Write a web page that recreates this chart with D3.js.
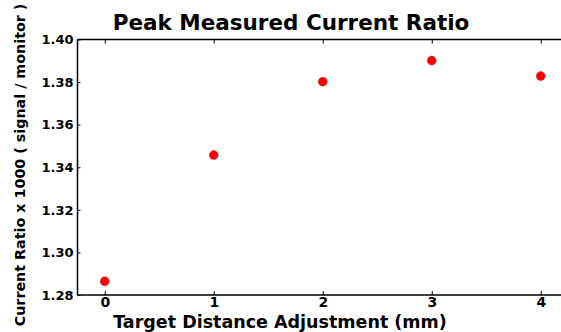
<!DOCTYPE html>
<html><head><meta charset="utf-8">
<script src="https://cdn.jsdelivr.net/npm/d3@7"></script>
<style>body{margin:0;background:#fff}svg{display:block}text{font-family:"DejaVu Sans",sans-serif;font-weight:bold}</style>
</head><body><svg id="c" width="561" height="332"></svg>
<script>
const xValues = [0, 1, 2, 3, 4];
const yValues = [1.2864, 1.3457, 1.3802, 1.3901, 1.3828];
const yTicks = [1.28, 1.30, 1.32, 1.34, 1.36, 1.38, 1.40];
const xTicks = [0, 1, 2, 3, 4];
const title = "Peak Measured Current Ratio";
const xLabel = "Target Distance Adjustment (mm)";
const yLabel = "Current Ratio x 1000 ( signal / monitor )";

const svg = d3.select("#c");
const x = d3.scaleLinear().domain([-0.25, 4.25]).range([77.5, 568]);
const y = d3.scaleLinear().domain([1.28, 1.40]).range([295, 39.5]);

const g = svg.append("g");
// spines
g.append("line").attr("x1", x(-0.25)).attr("x2", x(4.25)).attr("y1", y(1.28)).attr("y2", y(1.28)).attr("stroke", "#000").attr("stroke-width", 1.5);
g.append("line").attr("x1", x(-0.25)).attr("x2", x(4.25)).attr("y1", y(1.40)).attr("y2", y(1.40)).attr("stroke", "#000").attr("stroke-width", 1.5);
g.append("line").attr("x1", x(-0.25)).attr("x2", x(-0.25)).attr("y1", y(1.28)).attr("y2", y(1.40)).attr("stroke", "#000").attr("stroke-width", 1.5);

// bottom axis
const xb = svg.append("g").attr("transform", `translate(0,${y(1.28)})`)
  .call(d3.axisBottom(x).tickValues(xTicks).tickFormat(d3.format("d")).tickSizeInner(-4).tickSizeOuter(0).tickPadding(2));
xb.select(".domain").remove();
xb.selectAll("text").attr("font-size", 14).attr("font-family", "DejaVu Sans").attr("font-weight", "bold").attr("fill", "#000");
// top ticks
const xt = svg.append("g").attr("transform", `translate(0,${y(1.40)})`)
  .call(d3.axisTop(x).tickValues(xTicks).tickFormat("").tickSizeInner(-4).tickSizeOuter(0));
xt.select(".domain").remove();
// left axis
const yl = svg.append("g").attr("transform", `translate(${x(-0.25)},0)`)
  .call(d3.axisLeft(y).tickValues(yTicks).tickFormat(d3.format(".2f")).tickSizeInner(-3).tickSizeOuter(0).tickPadding(4));
yl.select(".domain").remove();
yl.selectAll("text").attr("font-size", 13).attr("font-family", "DejaVu Sans").attr("font-weight", "bold").attr("fill", "#000");
svg.selectAll(".tick line").attr("stroke", "#000");

// points
svg.append("g").selectAll("circle").data(xValues).join("circle")
  .attr("cx", (d) => x(d)).attr("cy", (d, i) => y(yValues[i])).attr("r", 4.5)
  .attr("fill", "#ff0000").attr("stroke", "#7f3030").attr("stroke-width", 0.4);

// title and labels
svg.append("text").attr("x", 291).attr("y", 30).attr("text-anchor", "middle").attr("font-size", 21.5).text(title);
svg.append("text").attr("x", 280).attr("y", 328).attr("text-anchor", "middle").attr("font-size", 17.5).text(xLabel);
svg.append("text").attr("transform", "translate(25,165) rotate(-90)").attr("text-anchor", "middle").attr("font-size", 14.3).text(yLabel);
</script></body></html>
